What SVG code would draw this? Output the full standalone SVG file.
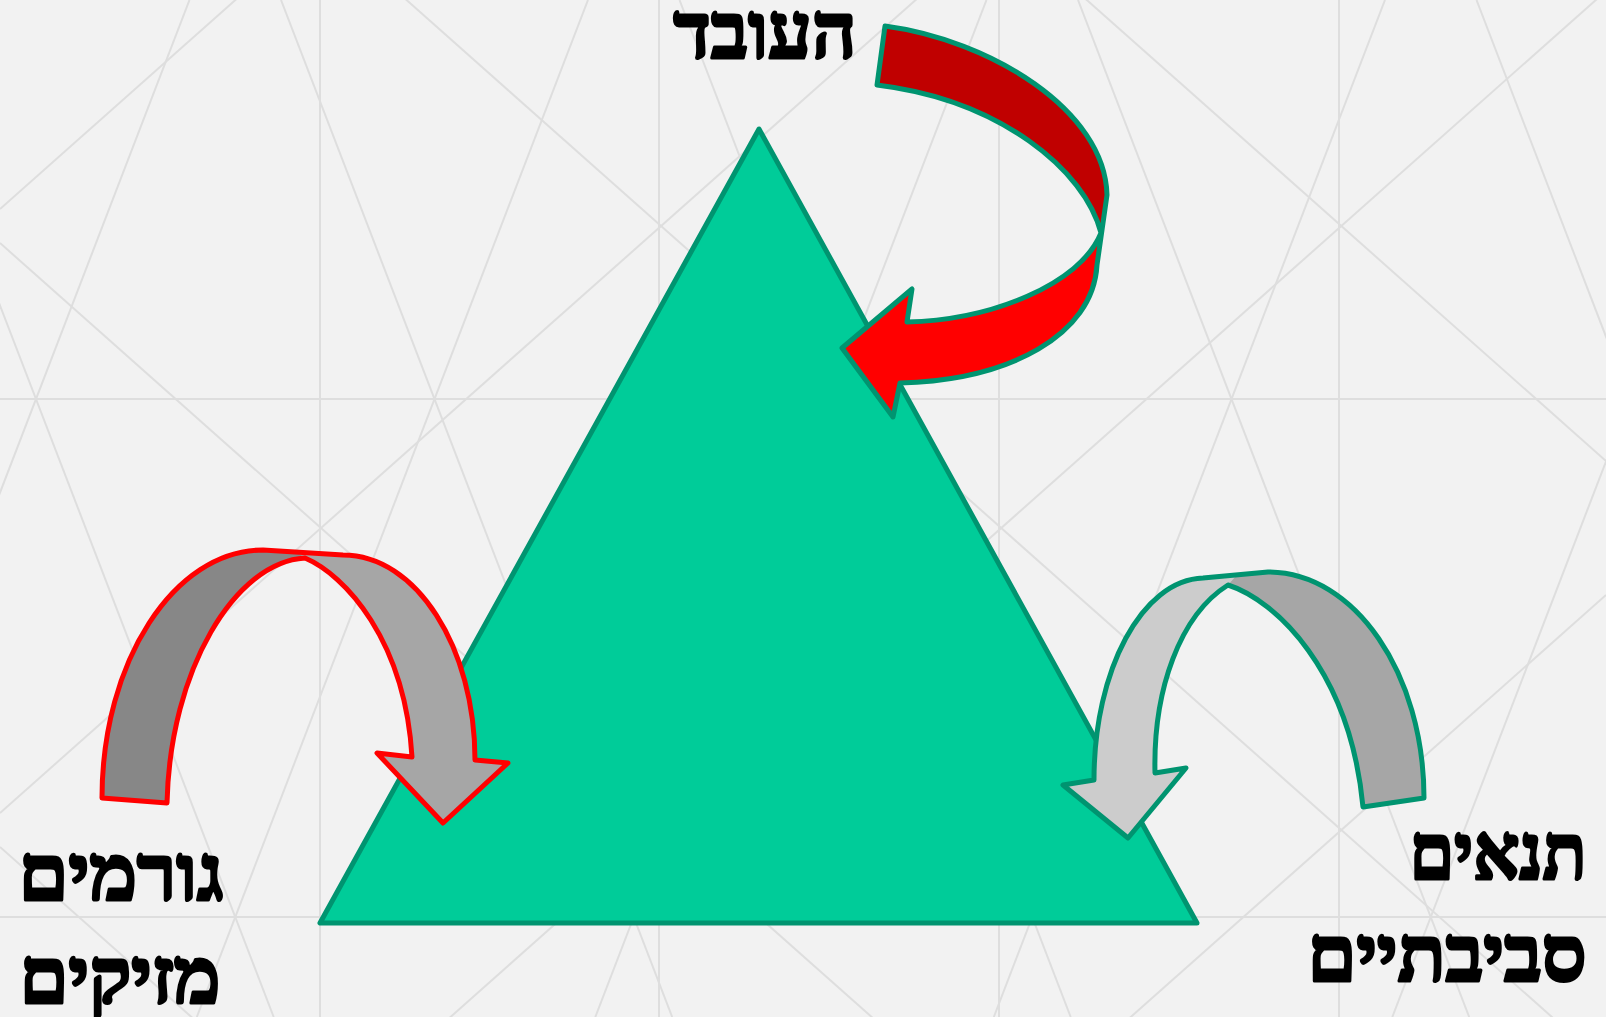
<svg xmlns="http://www.w3.org/2000/svg" width="1606" height="1017" viewBox="0 0 1606 1017">
<style>
.bg line{stroke:#dedede;stroke-width:2;fill:none}
.lbl{font-family:"Liberation Serif","DejaVu Serif",serif;font-weight:bold;font-size:78px;fill:#000;stroke:#000;stroke-width:3.2;stroke-linejoin:round}
.gs{stroke:#009470;stroke-width:5;stroke-linejoin:round;fill:none}
.rs{stroke:#ff0000;stroke-width:5;stroke-linejoin:round;fill:none}
</style>
<rect width="1606" height="1017" fill="#f2f2f2"/>
<g class="bg">
<line x1="320" y1="0" x2="320" y2="1017"/>
<line x1="659" y1="0" x2="659" y2="1017"/>
<line x1="999" y1="0" x2="999" y2="1017"/>
<line x1="1339" y1="0" x2="1339" y2="1017"/>
<line x1="0" y1="399" x2="1606" y2="399"/>
<line x1="0" y1="917" x2="1606" y2="917"/>
<line x1="-117.5" y1="0" x2="273.7" y2="1017"/>
<line x1="281" y1="0" x2="672.2" y2="1017"/>
<line x1="679.5" y1="0" x2="1070.7" y2="1017"/>
<line x1="1078" y1="0" x2="1469.2" y2="1017"/>
<line x1="1476.5" y1="0" x2="1867.7" y2="1017"/>
<line x1="189.5" y1="0" x2="-201.7" y2="1017"/>
<line x1="588" y1="0" x2="196.8" y2="1017"/>
<line x1="986.5" y1="0" x2="595.3" y2="1017"/>
<line x1="1385" y1="0" x2="993.8" y2="1017"/>
<line x1="1783.5" y1="0" x2="1392.3" y2="1017"/>
<line x1="0" y1="-965" x2="1606" y2="461"/>
<line x1="0" y1="-361" x2="1606" y2="1065"/>
<line x1="0" y1="243" x2="1606" y2="1669"/>
<line x1="0" y1="847" x2="1606" y2="2273"/>
<line x1="0" y1="209" x2="1606" y2="-1217"/>
<line x1="0" y1="813" x2="1606" y2="-613"/>
<line x1="0" y1="1417" x2="1606" y2="-9"/>
<line x1="0" y1="2021" x2="1606" y2="595"/>
</g>
<g id="triangle">
<polygon points="759,129 320,923 1197,923" fill="#00cc99" stroke="#009470" stroke-width="5" stroke-linejoin="round"/>
</g>
<g id="connectors">
<g id="arrow-worker">
<path fill="#c00000" d="M885,26 C990,40 1105,110 1107,195 L1102,233 C1085,170 1000,100 877,85 Z"/>
<path fill="#ff0000" d="M1102,230 L1097,265 C1093,335 1010,380 900,383 L893,417 L842,348 L912,289 L907,322 C990,320 1080,285 1101,233 Z"/>
<path class="gs" d="M877,85 L885,26 C990,40 1105,110 1107,195 L1097,265 C1093,335 1010,380 900,383 L893,417 L842,348 L912,289 L907,322 C990,320 1080,285 1101,233 C1085,170 1000,100 877,85 Z"/>
</g>
<g id="arrow-hazards">
<path fill="#878787" d="M102,798 C102,662 174,550 263,550 L300,552 L305,558 C235,562 170,670 167,803 Z"/>
<path fill="#a6a6a6" d="M305,558 L296,552 L343,555 C416,555 475,647 475,760 L508,763 L443,823 L377,753 L412,757 C405,640 345,575 305,558 Z"/>
<path class="rs" d="M263,550 L343,555 C416,555 475,647 475,760 L508,763 L443,823 L377,753 L412,757 C405,640 345,575 305,558 C235,562 170,670 167,803 L102,798 C102,662 174,550 263,550 Z"/>
</g>
<g id="arrow-environment">
<path fill="#a6a6a6" d="M1424,798 C1424,674 1355,572 1268,572 L1222,576 L1228,585 C1275,600 1350,670 1363,807 Z"/>
<path fill="#cccccc" d="M1203,578 C1142,580 1094,670 1094,780 L1063,785 L1128,838 L1186,768 L1155,773 C1153,690 1180,615 1228,585 L1236,576 Z"/>
<path class="gs" d="M1203,578 L1268,572 C1355,572 1424,674 1424,798 L1363,807 C1350,670 1275,600 1228,585 C1180,615 1153,690 1155,773 L1186,768 L1128,838 L1063,785 L1094,780 C1094,670 1142,580 1203,578 Z"/>
</g>
</g>
<g id="label-worker"><text class="lbl" x="765" y="58" text-anchor="middle" textLength="183" lengthAdjust="spacingAndGlyphs">העובד</text></g>
<g id="label-hazards">
<text class="lbl" x="121" y="900" text-anchor="middle" textLength="205" lengthAdjust="spacingAndGlyphs">גורמים</text>
<text class="lbl" x="120" y="1003" text-anchor="middle" textLength="201" lengthAdjust="spacingAndGlyphs">מזיקים</text>
</g>
<g id="label-environment">
<text class="lbl" x="1498" y="879" text-anchor="middle" textLength="177" lengthAdjust="spacingAndGlyphs">תנאים</text>
<text class="lbl" x="1447" y="981" text-anchor="middle" textLength="279" lengthAdjust="spacingAndGlyphs">סביבתיים</text>
</g>
</svg>
